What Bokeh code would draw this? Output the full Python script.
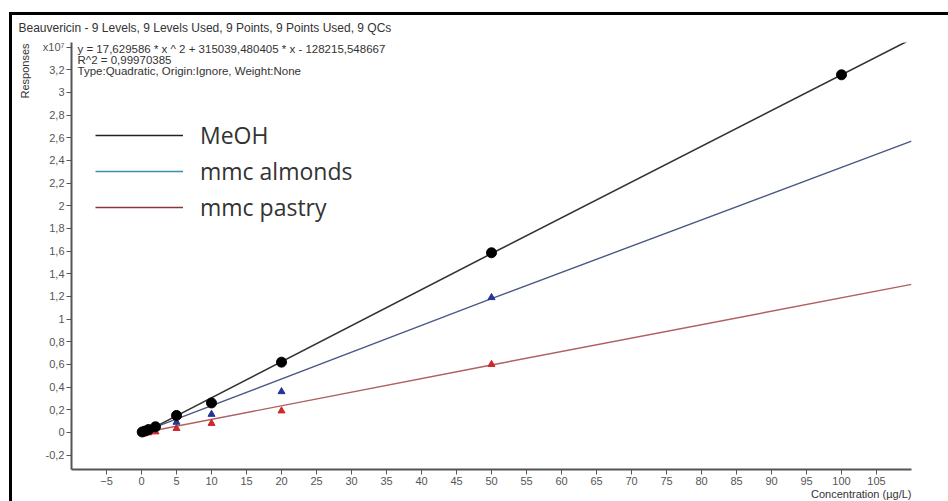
from bokeh.plotting import figure
from bokeh.models import Range1d, FixedTicker, Label, Legend, LegendItem, Title
from bokeh.embed import file_html
from bokeh.resources import INLINE

# ---- data (responses in units of 10^7) ----
levels = [0.1, 0.5, 1, 2, 5, 10, 20, 50, 100]
meoh_resp = [0.004, 0.012, 0.025, 0.05, 0.15, 0.26, 0.62, 1.585, 3.155]
alm_levels = [0.1, 0.5, 1, 2, 5, 10, 20, 50]
alm_resp = [0.0, 0.004, 0.012, 0.035, 0.09, 0.16, 0.36, 1.19]
pas_levels = [0.1, 0.5, 1, 2, 5, 10, 20, 50]
pas_resp = [-0.008, -0.006, -0.003, 0.005, 0.035, 0.08, 0.19, 0.60]

fit_x = [0, 50, 110]
meoh_fit = [-0.013, 1.578, 3.47]
alm_fit = [0.0, 1.18, 2.57]
pas_fit = [-0.005, 0.595, 1.306]

x_ticks = [-5, 0, 5, 10, 15, 20, 25, 30, 35, 40, 45, 50, 55, 60, 65, 70, 75, 80, 85, 90, 95, 100, 105]
y_ticks = [-0.2, 0.0, 0.2, 0.4, 0.6, 0.8, 1.0, 1.2, 1.4, 1.6, 1.8, 2.0, 2.2, 2.4, 2.6, 2.8, 3.0, 3.2, 3.4]
y_tick_labels = ["-0,2", "0", "0,2", "0,4", "0,6", "0,8", "1", "1,2", "1,4", "1,6", "1,8",
                 "2", "2,2", "2,4", "2,6", "2,8", "3", "3,2", "x10\u2077"]
series_names = ["MeOH", "mmc almonds", "mmc pastry"]

header = "Beauvericin - 9 Levels, 9 Levels Used, 9 Points, 9 Points Used, 9 QCs"
eq_lines = ["y = 17,629586 * x ^ 2  + 315039,480405 * x  - 128215,548667",
            "R^2 = 0,99970385",
            "Type:Quadratic, Origin:Ignore, Weight:None"]
y_label = "Responses"
x_label = "Concentration (\u00b5g/L)"

X0, X1 = -10, 110
Y0, Y1 = -0.327, 3.44

W, H = 948, 501
p = figure(width=W, height=H, output_backend="svg", toolbar_location=None,
           x_range=Range1d(X0, X1), y_range=Range1d(Y0, Y1),
           min_border_left=71, min_border_right=W - 911,
           min_border_top=42, min_border_bottom=H - 469)
# black page frame (left and top edges) painted behind a transparent canvas border
p.styles = {"background-color": "white",
            "background-image": "linear-gradient(#000, #000), linear-gradient(#000, #000)",
            "background-size": "3px 100%, 100% 3px",
            "background-position": "9px 12px, 9px 12px",
            "background-repeat": "no-repeat"}
p.grid.visible = False
p.outline_line_color = None
p.background_fill_color = "white"
p.border_fill_alpha = 0

# header title
p.title.text = header
p.title.align = "left"
p.title.offset = -(71 - 18)
p.title.standoff = 15
p.title.text_font = "Liberation Sans"
p.title.text_font_size = "12px"
p.title.text_font_style = "normal"
p.title.text_color = "#333333"

# axes
for ax in (p.xaxis[0], p.yaxis[0]):
    ax.axis_line_color = "#555555"
    ax.axis_line_width = 2
    ax.major_tick_line_color = "#555555"
    ax.major_tick_line_width = 1
    ax.major_tick_out = 5
    ax.major_tick_in = 0
    ax.minor_tick_line_color = None
    ax.major_label_text_font = "Liberation Sans"
    ax.major_label_text_font_size = "11px"
    ax.major_label_text_color = "#555555"
p.xaxis.ticker = FixedTicker(ticks=x_ticks)
p.xaxis.major_label_standoff = 2
p.yaxis.ticker = FixedTicker(ticks=y_ticks)
p.yaxis.major_label_overrides = {t: l for t, l in zip(y_ticks, y_tick_labels)}
p.yaxis.major_label_standoff = 2

tstyle = dict(text_font="Liberation Sans", text_font_size="11px", text_font_style="normal",
              text_color="#333333")
tstyle_eq = dict(tstyle, text_font_size="11.5px")
p.add_layout(Title(text=y_label, align="right", offset=1, standoff=18, **tstyle), "left")
p.add_layout(Title(text=x_label, align="right", vertical_align="top", offset=0, standoff=0,
                   **tstyle), "below")

# fit lines
p.line(fit_x, meoh_fit, line_color="#333333", line_width=1.6)
p.line(fit_x, alm_fit, line_color="#4a5888", line_width=1.4)
p.line(fit_x, pas_fit, line_color="#b06060", line_width=1.4)

# points
p.scatter(pas_levels, pas_resp, marker="triangle", size=7, fill_color="#d02828", line_color="#d02828")
p.scatter(alm_levels, alm_resp, marker="triangle", size=7, fill_color="#23349a", line_color="#23349a")
p.scatter(levels, meoh_resp, marker="circle", size=10, fill_color="black", line_color="black")

# legend swatches (custom colours, no drawn data)
nan = float("nan")
r1 = p.line([nan], [nan], line_color="#222222", line_width=1.6)
r2 = p.line([nan], [nan], line_color="#3a90b0", line_width=1.6)
r3 = p.line([nan], [nan], line_color="#8b3535", line_width=1.6)
legend = Legend(items=[LegendItem(label=series_names[0], renderers=[r1]),
                       LegendItem(label=series_names[1], renderers=[r2]),
                       LegendItem(label=series_names[2], renderers=[r3])],
                location=(24, 246), glyph_width=88, glyph_height=20, label_height=20,
                label_standoff=17, spacing=4, padding=0, margin=0,
                border_line_color=None, background_fill_alpha=0,
                label_text_font="Open Sans", label_text_font_size="23px",
                label_text_color="#333333")
p.add_layout(legend)

# equation text inside the plot area (page pixel -> data helpers)
def dx(px):
    return X0 + (px - 71) / 840 * (X1 - X0)

def dy(py):
    return Y1 - (py - 42) / 427 * (Y1 - Y0)

for i, s in enumerate(eq_lines):
    p.add_layout(Label(x=dx(77), y=dy(48 + 11 * i), text=s, text_align="left",
                       text_baseline="middle", **tstyle_eq))

html = file_html(p, INLINE)
html = html.replace("<head>", "<head><style>html, body { overflow: hidden; margin: 0; }</style>", 1)
open("out.html", "w").write(html)
